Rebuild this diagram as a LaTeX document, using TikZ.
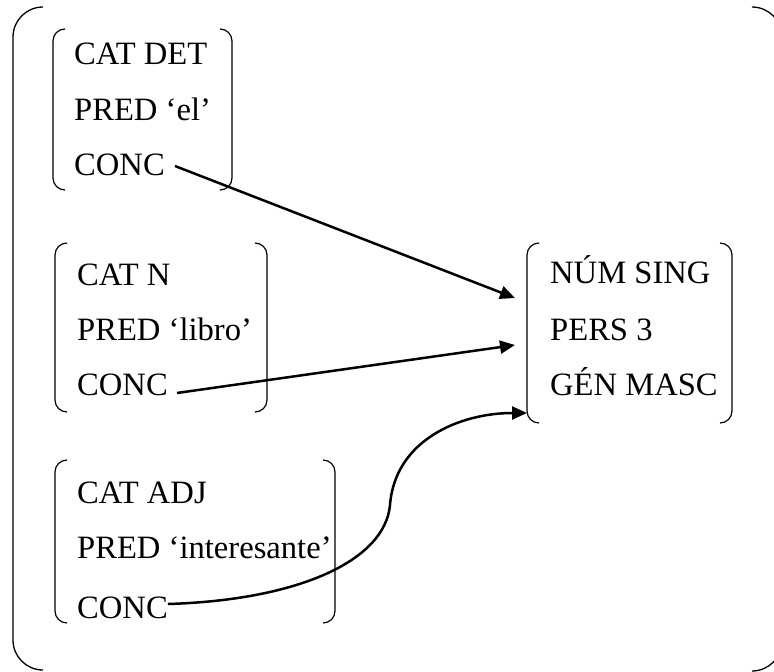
\documentclass[tikz,border=0pt]{standalone}
\usepackage{fontspec}
\setmainfont{Liberation Serif}
\usetikzlibrary{arrows.meta}

\begin{document}
\begin{tikzpicture}[x=1pt,y=-1pt,
	rasgo/.style={anchor=base west,inner sep=0pt,font=\fontsize{32.6}{38}\selectfont},
	corchete/.style={line width=1.2pt,rounded corners=12pt},
	enlace/.style={line width=2.5pt,-{Triangle[length=15pt,width=13pt]}}]
					\useasboundingbox (0,0) rectangle (774,672);

					\def\corchetes#1#2#3#4{%
						\draw[corchete] (#1+12,#2) -- (#1,#2) -- (#1,#4) -- (#1+12,#4);
						\draw[corchete] (#3-12,#2) -- (#3,#2) -- (#3,#4) -- (#3-12,#4);
					}

					% corchetes exteriores
					\begin{scope}[line width=1.3pt,rounded corners=30pt]
						\draw (43,7) -- (13,7) -- (13,670) -- (43,670);
						\draw (752,7) -- (782,7) -- (782,671) -- (752,671);
					\end{scope}

					% el
					\begin{scope}
						\corchetes{53}{29}{232}{190}
						\node[rasgo] (det-cat) at (74,64) {CAT DET};
						\node[rasgo] (det-pred) at (74,120) {PRED ‘el’};
						\node[rasgo] (det-conc) at (74,175) {CONC};
					\end{scope}

					% libro
					\begin{scope}
						\corchetes{55}{243}{267}{412}
						\node[rasgo] (n-cat) at (77,285) {CAT N};
						\node[rasgo] (n-pred) at (77,340) {PRED ‘libro’};
						\node[rasgo] (n-conc) at (77,395) {CONC};
					\end{scope}

					% interesante
					\begin{scope}
						\corchetes{55}{460}{335}{623}
						\node[rasgo] (adj-cat) at (77,503) {CAT ADJ};
						\node[rasgo] (adj-pred) at (77,558) {PRED ‘interesante’};
						\node[rasgo] (adj-conc) at (77,618) {CONC};
					\end{scope}

					% concordancia
					\begin{scope}
						\corchetes{527}{243}{732}{423}
						\node[rasgo] (num) at (550,283) {NÚM SING};
						\node[rasgo] (pers) at (550,340) {PERS 3};
						\node[rasgo] (gen) at (550,395) {GÉN MASC};
						\coordinate (meta-a) at (515,298);
						\coordinate (meta-b) at (515,345);
						\coordinate (meta-c) at (527,413);
					\end{scope}

					\begin{scope}[enlace]
						\draw ([xshift=10pt,yshift=9pt]det-conc.base east) -- (meta-a);
						\draw ([xshift=9pt,yshift=2pt]n-conc.base east) -- (meta-b);
						\draw ([yshift=14pt]adj-conc.base east) .. controls (300,600) and (385,560) .. (390,505)
							.. controls (395,440) and (460,413) .. (meta-c);
					\end{scope}
				\end{tikzpicture}
\end{document}
